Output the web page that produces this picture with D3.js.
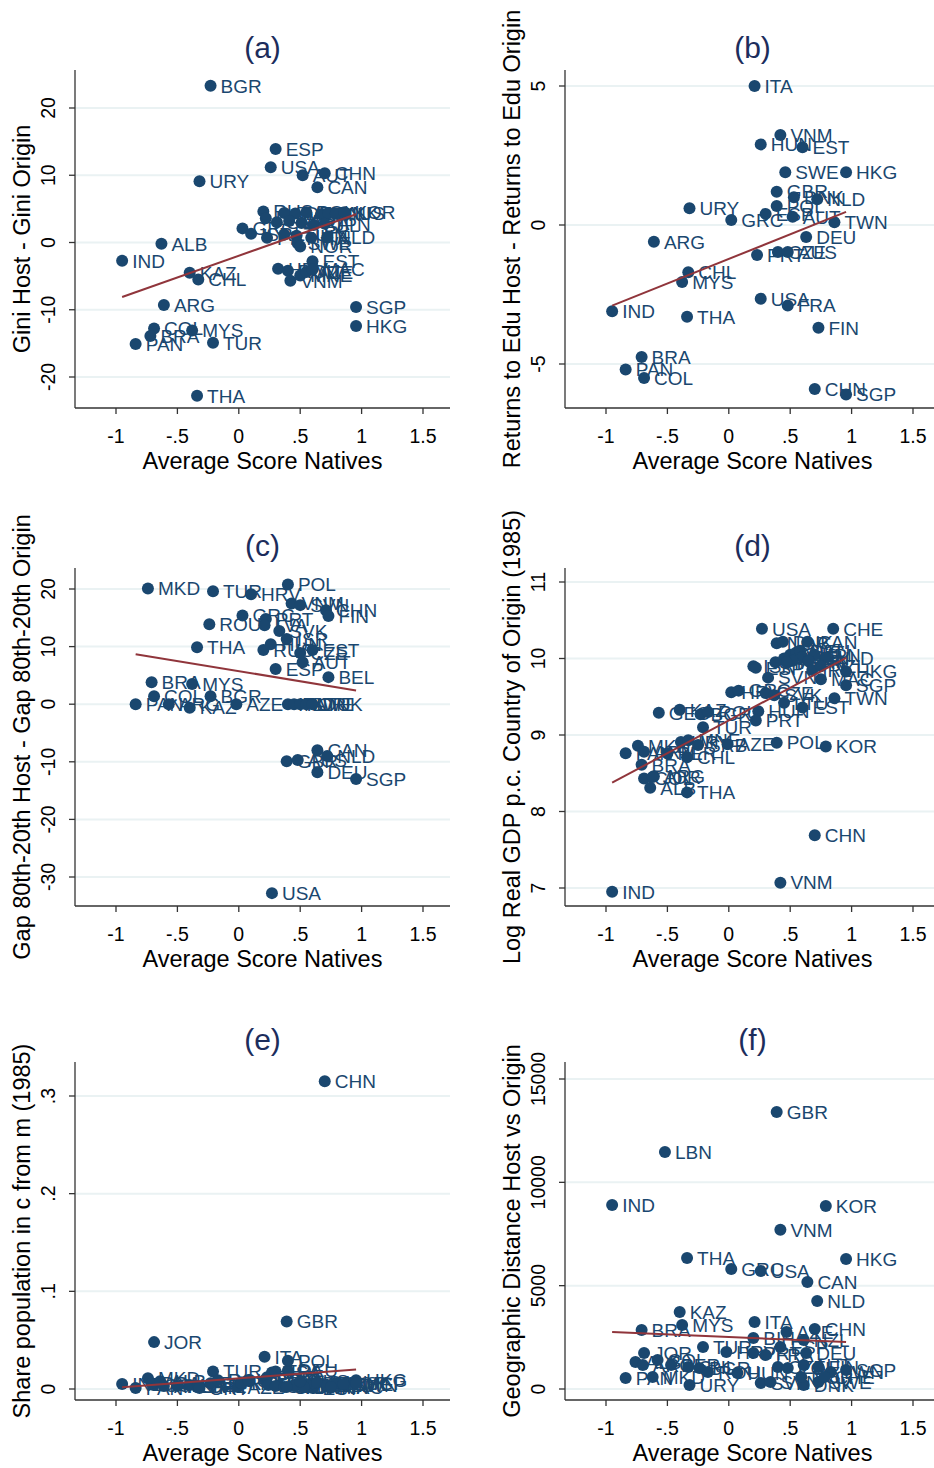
<!DOCTYPE html>
<html>
<head>
<meta charset="utf-8">
<script src="https://cdn.jsdelivr.net/npm/d3@7"></script>
<style>
  body { margin: 0; background: #fff; }
  text { font-family: "Liberation Sans", Arial, Helvetica, sans-serif; }
</style>
</head>
<body>
<svg id="chart" width="934" height="1468"></svg>
<script>
// ---- data ----
const xTicks = [-1, -0.5, 0, 0.5, 1, 1.5];

// (a) Gini Host - Gini Origin
const codesA = ["BGR","ESP","USA","URY","AUT","CHN","CAN","RUS","LVA","GRC","ISR","PRT","SVK","DEU","POL","FIN","DNK","AUS","KOR","SVN","CZE","FRA","BEL","JPN","LTU","HUN","ITA","NLD","SWE","NOR","EST","HRV","ROU","VNM","MNE","AZE","MAC","ALB","IND","KAZ","CHL","ARG","SGP","HKG","COL","BRA","MYS","PAN","TUR","THA"];
const scoreA = [-0.23,0.30,0.26,-0.32,0.52,0.70,0.64,0.20,0.22,0.03,0.10,0.23,0.37,0.46,0.55,0.67,0.73,0.79,0.86,0.31,0.41,0.51,0.61,0.70,0.37,0.47,0.59,0.72,0.48,0.50,0.60,0.32,0.40,0.42,0.50,0.55,0.60,-0.63,-0.95,-0.40,-0.33,-0.61,0.955,0.955,-0.69,-0.72,-0.38,-0.84,-0.21,-0.34];
const giniA = [23.3,13.9,11.2,9.1,10.0,10.3,8.2,4.6,3.6,2.1,1.3,0.7,4.4,4.3,4.5,4.2,4.4,4.3,4.5,3.0,3.2,2.9,2.6,2.8,1.2,1.0,0.7,0.75,-0.1,-0.6,-2.8,-3.9,-4.2,-5.7,-4.9,-4.4,-4.0,-0.2,-2.7,-4.5,-5.5,-9.3,-9.6,-12.4,-12.8,-13.9,-13.1,-15.1,-14.9,-22.8];
const fitA = [-1.97, 6.46];   // intercept, slope
const yTicksA = [-20, -10, 0, 10, 20];

// (b) Returns to Edu Host - Returns to Edu Origin
const codesB = ["ITA","VNM","HUN","EST","SWE","HKG","GBR","DNK","NLD","URY","POL","GRC","ESP","AUT","TWN","ARG","DEU","PRT","CZE","AUS","CHL","MYS","IND","THA","USA","FRA","FIN","BRA","PAN","COL","CHN","SGP"];
const scoreB = [0.21,0.42,0.26,0.60,0.46,0.955,0.39,0.53,0.72,-0.32,0.39,0.02,0.30,0.52,0.86,-0.61,0.63,0.23,0.40,0.48,-0.33,-0.38,-0.95,-0.34,0.26,0.48,0.73,-0.71,-0.84,-0.69,0.70,0.955];
const retB = [5.0,3.24,2.9,2.8,1.9,1.9,1.2,1.0,0.93,0.6,0.68,0.18,0.4,0.3,0.1,-0.6,-0.43,-1.08,-0.97,-0.97,-1.7,-2.05,-3.1,-3.3,-2.65,-2.9,-3.7,-4.75,-5.2,-5.5,-5.9,-6.1];
const fitB = [-1.22, 1.77];
const yTicksB = [-5, 0, 5];

// (c) Gap 80th-20th Host - Gap 80th-20th Origin
const codesC = ["MKD","TUR","HRV","POL","VNM","SVN","CHN","FIN","GRC","PRT","LVA","ROU","SVK","ISR","THA","RUS","HUN","CZE","EST","AUT","ESP","BEL","BRA","MYS","COL","BGR","PAN","ARG","KAZ","AZE","ITA","NOR","SWE","LTU","DNK","CAN","NLD","GBR","AUS","DEU","SGP","USA"];
const scoreC = [-0.74,-0.21,0.10,0.40,0.43,0.50,0.71,0.73,0.03,0.22,0.21,-0.24,0.33,0.39,-0.34,0.20,0.26,0.50,0.60,0.52,0.30,0.73,-0.71,-0.38,-0.69,-0.23,-0.84,-0.57,-0.40,-0.02,0.40,0.45,0.50,0.55,0.60,0.64,0.72,0.39,0.48,0.64,0.955,0.27];
const gapC = [20.1,19.6,19.1,20.8,17.5,17.2,16.3,15.3,15.4,14.8,13.7,13.9,12.7,11.3,9.9,9.4,10.4,8.9,9.4,7.3,6.1,4.7,3.8,3.5,1.4,1.4,0,0,-0.6,0,0,0,0,0,0,-8.0,-9.0,-9.9,-9.7,-11.8,-13.0,-32.8];
const fitC = [5.74, -3.5];
const yTicksC = [-30, -20, -10, 0, 10, 20];

// (d) Log Real GDP p.c. Country of Origin (1985)
const codesD = ["USA","CHE","NOR","DNK","CAN","AUS","AUT","DEU","JPN","BEL","GBR","SWE","FRA","ITA","FIN","NLD","ISR","ESP","IRL","NZL","HKG","MAC","SGP","SVN","TWN","HRV","HUN","CZE","SVK","LTU","EST","GRC","PRT","GEO","KAZ","BGR","ROU","TUR","POL","KOR","MKD","PAN","ARM","URY","MNE","SRB","AZE","CHL","PER","BRA","ARG","COL","JOR","ALB","THA","CHN","VNM","IND"];
const scoreD = [0.27,0.85,0.39,0.44,0.64,0.50,0.55,0.58,0.70,0.60,0.52,0.45,0.47,0.38,0.65,0.79,0.20,0.22,0.68,0.75,0.955,0.75,0.955,0.32,0.86,0.02,0.24,0.30,0.37,0.45,0.60,0.08,0.22,-0.57,-0.40,-0.23,-0.17,-0.21,0.39,0.79,-0.74,-0.84,-0.69,-0.39,-0.33,-0.25,-0.01,-0.34,-0.50,-0.71,-0.61,-0.69,-0.62,-0.64,-0.34,0.70,0.42,-0.95];
const gdpD = [10.39,10.39,10.20,10.22,10.22,10.05,10.08,10.10,10.05,10.02,9.97,10.00,9.95,9.95,9.97,10.01,9.90,9.88,9.85,9.90,9.83,9.73,9.65,9.75,9.48,9.56,9.31,9.55,9.52,9.42,9.36,9.58,9.19,9.29,9.33,9.27,9.30,9.10,8.90,8.85,8.86,8.76,8.78,8.91,8.93,8.87,8.88,8.71,8.76,8.61,8.46,8.43,8.45,8.31,8.25,7.69,7.07,6.95];
const fitD = [9.19, 0.856];
const yTicksD = [7, 8, 9, 10, 11];

// (e) Share population in c from m (1985)
const codesE = ["IND","PAN","MKD","COL","BRA","ALB","ARG","JOR","PER","KAZ","THA","CHL","URY","BGR","TUR","ROU","AZE","HRV","GRC","ESP","PRT","HUN","ITA","USA","DEU","FRA","CZE","POL","GBR","SVK","LTU","SWE","NOR","EST","BEL","AUT","DNK","CAN","FIN","CHN","NLD","AUS","KOR","TWN","CHE","HKG","SGP","MAC"];
const scoreE = [-0.95,-0.84,-0.74,-0.69,-0.71,-0.64,-0.61,-0.69,-0.50,-0.40,-0.34,-0.33,-0.32,-0.23,-0.21,-0.17,-0.01,0.02,0.08,0.22,0.23,0.24,0.21,0.27,0.40,0.30,0.30,0.40,0.39,0.37,0.45,0.46,0.39,0.60,0.60,0.55,0.53,0.64,0.73,0.70,0.72,0.50,0.79,0.86,0.85,0.955,0.955,0.75];
const shareE = [0.005,0.001,0.011,0.004,0.006,0.008,0.003,0.048,0.003,0.004,0.002,0.003,0.001,0.006,0.018,0.009,0.002,0.006,0.009,0.010,0.012,0.004,0.033,0.017,0.019,0.018,0.003,0.029,0.069,0.002,0.003,0.004,0.002,0.001,0.006,0.005,0.002,0.007,0.002,0.315,0.004,0.008,0.006,0.004,0.005,0.009,0.006,0.002];
const fitE = [0.0109, 0.0095];
const yTicksE = [0, 0.1, 0.2, 0.3];

// (f) Geographic Distance Host vs Origin
const codesF = ["GBR","LBN","IND","KOR","VNM","THA","GRC","USA","HKG","CAN","NLD","KAZ","MYS","ITA","BRA","CHN","AZE","BIH","TUR","DEU","JOR","ESP","NZL","ALB","ARG","COL","PER","CHL","BGR","ROU","HRV","HUN","PRT","FRA","CZE","POL","AUT","FIN","TWN","SGP","SVK","SVN","DNK","SWE","NOR","CHE","PAN","URY","MKD"];
const scoreF = [0.39,-0.52,-0.95,0.79,0.42,-0.34,0.02,0.26,0.955,0.64,0.72,-0.40,-0.38,0.21,-0.71,0.70,0.47,0.20,-0.21,0.63,-0.69,0.42,0.61,-0.76,-0.70,-0.58,-0.47,-0.33,-0.24,-0.17,-0.02,0.07,0.20,0.30,0.40,0.48,0.61,0.73,0.83,0.955,0.26,0.34,0.61,0.73,0.59,0.78,-0.84,-0.32,-0.62];
const distF = [13400,11470,8900,8860,7700,6340,5810,5710,6290,5180,4260,3730,3100,3240,2860,2900,2760,2470,2030,1740,1740,2030,2370,1310,1160,1400,1160,1070,1020,820,1790,770,1740,1650,1070,1020,1160,1070,820,920,290,340,190,340,580,580,530,190,580];
const fitF = [2515, -257];
const yTicksF = [0, 5000, 10000, 15000];

// ---- drawing ----
const navy = "#1a476f", maroon = "#90353b", gridColor = "#eaf2f3";
const svg = d3.select("#chart");

function fmt(v) {
  let s = String(+v.toFixed(4));
  return s.replace(/^(-?)0\./, "$1.");
}

function drawPanel(p) {
  const W = 375;
  const g = svg.append("g").attr("transform", `translate(${p.left},0)`);
  const x = d3.scaleLinear().domain([-1, 1.5]).range([41, 348]);
  const y = d3.scaleLinear().domain(p.yDomain).range(p.yRange);
  const top = p.axisY - 338;

  // gridlines
  g.selectAll(".grid").data(p.yTicks).enter().append("line")
    .attr("x1", 0).attr("x2", W)
    .attr("y1", d => y(d)).attr("y2", d => y(d))
    .attr("stroke", gridColor).attr("stroke-width", 2);

  // axes lines
  g.append("line").attr("x1", 0).attr("x2", W).attr("y1", p.axisY).attr("y2", p.axisY)
    .attr("stroke", "#333").attr("stroke-width", 1.3);
  g.append("line").attr("x1", 0).attr("x2", 0).attr("y1", top).attr("y2", p.axisY)
    .attr("stroke", "#333").attr("stroke-width", 1.3);

  // x ticks
  g.selectAll(".xt").data(xTicks).enter().append("line")
    .attr("x1", d => x(d)).attr("x2", d => x(d))
    .attr("y1", p.axisY).attr("y2", p.axisY + 6)
    .attr("stroke", "#333").attr("stroke-width", 1.3);
  g.selectAll(".xl").data(xTicks).enter().append("text")
    .attr("x", d => x(d)).attr("y", p.axisY + 35)
    .attr("text-anchor", "middle").attr("font-size", 19.5)
    .text(d => fmt(d));
  g.append("text").attr("x", W / 2).attr("y", p.axisY + 61)
    .attr("text-anchor", "middle").attr("font-size", 23.5)
    .text("Average Score Natives");

  // y ticks
  g.selectAll(".yt").data(p.yTicks).enter().append("line")
    .attr("x1", -6).attr("x2", 0)
    .attr("y1", d => y(d)).attr("y2", d => y(d))
    .attr("stroke", "#333").attr("stroke-width", 1.3);
  g.selectAll(".yl").data(p.yTicks).enter().append("text")
    .attr("transform", d => `translate(-20,${y(d)}) rotate(-90)`)
    .attr("text-anchor", "middle").attr("font-size", 19.5)
    .text(d => fmt(d));
  g.append("text")
    .attr("transform", `translate(-45,${(top + p.axisY) / 2}) rotate(-90)`)
    .attr("text-anchor", "middle").attr("font-size", 23.5)
    .text(p.yTitle);

  // panel title
  g.append("text").attr("x", W / 2).attr("y", p.axisY - 350)
    .attr("text-anchor", "middle").attr("font-size", 30).attr("fill", "#1c2d5c")
    .text(p.title);

  // points with labels
  const pts = p.codes.map((c, i) => ({ c, x: p.xs[i], y: p.ys[i] }));
  const pg = g.selectAll(".pt").data(pts).enter().append("g")
    .attr("transform", d => `translate(${x(d.x)},${y(d.y)})`);
  pg.append("circle").attr("r", 6).attr("fill", navy);
  pg.append("text").attr("x", 10).attr("dy", "0.36em")
    .attr("font-size", 19).attr("fill", navy).text(d => d.c);

  // fitted line
  const ext = d3.extent(p.xs);
  const line = d3.line().x(d => x(d)).y(d => y(p.fit[0] + p.fit[1] * d));
  g.append("path").datum(ext).attr("d", line)
    .attr("fill", "none").attr("stroke", maroon).attr("stroke-width", 2);
}

const L1 = 75, L2 = 565;
drawPanel({ left: L1, axisY: 408, title: "(a)", yTitle: "Gini Host - Gini Origin",
  yDomain: [-20, 20], yRange: [377, 108], yTicks: yTicksA,
  codes: codesA, xs: scoreA, ys: giniA, fit: fitA });
drawPanel({ left: L2, axisY: 408, title: "(b)", yTitle: "Returns to Edu Host - Returns to Edu Origin",
  yDomain: [-5, 5], yRange: [364, 86], yTicks: yTicksB,
  codes: codesB, xs: scoreB, ys: retB, fit: fitB });
drawPanel({ left: L1, axisY: 906, title: "(c)", yTitle: "Gap 80th-20th Host - Gap 80th-20th Origin",
  yDomain: [-30, 20], yRange: [877, 589], yTicks: yTicksC,
  codes: codesC, xs: scoreC, ys: gapC, fit: fitC });
drawPanel({ left: L2, axisY: 906, title: "(d)", yTitle: "Log Real GDP p.c. Country of Origin (1985)",
  yDomain: [7, 11], yRange: [888, 582], yTicks: yTicksD,
  codes: codesD, xs: scoreD, ys: gdpD, fit: fitD });
drawPanel({ left: L1, axisY: 1400, title: "(e)", yTitle: "Share population in c from m (1985)",
  yDomain: [0, 0.3], yRange: [1389, 1096], yTicks: yTicksE,
  codes: codesE, xs: scoreE, ys: shareE, fit: fitE });
drawPanel({ left: L2, axisY: 1400, title: "(f)", yTitle: "Geographic Distance Host vs Origin",
  yDomain: [0, 15000], yRange: [1389, 1079], yTicks: yTicksF,
  codes: codesF, xs: scoreF, ys: distF, fit: fitF });
</script>
</body>
</html>
